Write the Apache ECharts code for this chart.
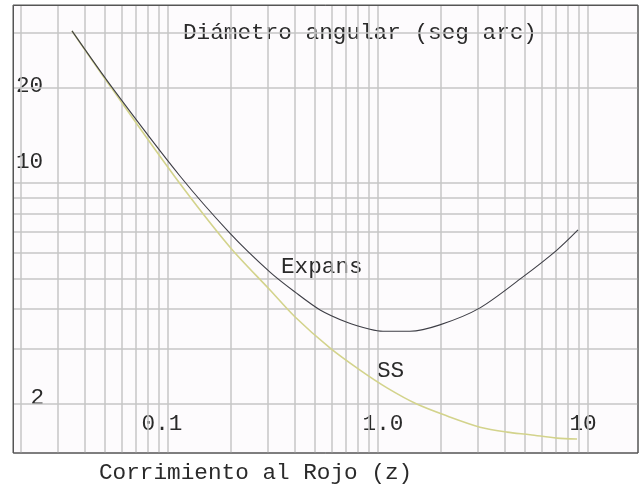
<!DOCTYPE html>
<html><head><meta charset="utf-8">
<script src="https://cdn.jsdelivr.net/npm/echarts@6/dist/echarts.min.js"></script>
<style>html,body{margin:0;padding:0;background:#fff}#c{width:640px;height:486px}</style>
</head><body><div id="c"></div>
<script>
// ---- data ----
const zExpans = [0.0349,0.0547,0.114,0.197,0.306,0.403,0.530,0.711,0.916,1.056,1.42,1.97,3.06,4.90,7.11,8.96];
const thetaExpans = [30.3,19.9,10.53,6.95,5.23,4.52,3.97,3.63,3.45,3.40,3.40,3.56,4.03,5.05,6.14,7.11];
const zSS = [0.0349,0.0541,0.108,0.197,0.306,0.403,0.590,0.821,1.104,1.53,2.15,3.06,4.11,5.30,7.11,8.87];
const thetaSS = [30.3,19.9,10.46,6.28,4.59,3.77,3.01,2.56,2.25,2.00,1.83,1.69,1.63,1.60,1.56,1.55];
const xGridValues = [0.02,0.03,0.04,0.05,0.06,0.07,0.08,0.09,0.1,0.2,0.3,0.4,0.5,0.6,0.7,0.8,0.9,1,2,3,4,5,6,7,8,9,10];
const yGridValues = [2,3,4,5,6,7,8,9,10,20,30];
const xTickValues = [0.1,1,10];
const xTickLabels = ['0.1','1.0','10'];
const yTickValues = [20,10,2];
const yTickLabels = ['20','10','2'];
const titleText = 'Diámetro angular (seg arc)';
const xTitleText = 'Corrimiento al Rojo (z)';
const seriesNames = ['Expans','SS'];

const FONT = '"Liberation Mono", "DejaVu Sans Mono", monospace';
const FS = 22.7;
const chart = echarts.init(document.getElementById('c'), null, {renderer:'canvas'});
const pair = (xs, ys) => xs.map((x,i)=>[x, ys[i]]);
const gridLine = {color:'#c6c6c6', width:1.5, type:'solid'};

chart.setOption({
  animation:false,
  backgroundColor:'#ffffff',
  grid:{left:13, top:5, right:2, bottom:33, show:true, backgroundColor:'#fdfbfd', borderColor:'#555', borderWidth:1},
  xAxis:{type:'log', logBase:10, min:0.01828, max:17.3, axisLine:{show:false}, axisTick:{show:false}, axisLabel:{show:false}, splitLine:{show:false}},
  yAxis:{type:'log', logBase:10, min:1.400, max:36.6, axisLine:{show:false}, axisTick:{show:false}, axisLabel:{show:false}, splitLine:{show:false}},
  series:[
    {type:'line', name:'grid', data:[], z:1, silent:true,
     markLine:{silent:true, symbol:['none','none'], z:1, label:{show:false}, lineStyle:gridLine, animation:false,
       data: xGridValues.map(v=>({xAxis:v})).concat(yGridValues.map(v=>({yAxis:v})))}},
    {type:'line', name:seriesNames[1], data:pair(zSS, thetaSS), smooth:0.3, showSymbol:false, z:3,
     lineStyle:{color:'#d3d38c', width:1.6}},
    {type:'line', name:seriesNames[0], data:pair(zExpans, thetaExpans), smooth:0.3, showSymbol:false, z:4,
     lineStyle:{color:'#3e3e46', width:1.1}}
  ]
});

const px = v => chart.convertToPixel({xAxisIndex:0}, v);
const py = v => chart.convertToPixel({yAxisIndex:0}, v);
const txtStyle = (s, extra) => Object.assign({text:s, fill:'#2a2a2a', font: FS+'px '+FONT}, extra||{});
const bottomY = py(1.400);
const g = [];
// frame
g.push({type:'rect', shape:{x:13.5, y:5.5, width:624.5, height:447.5}, style:{fill:null, stroke:'#555', lineWidth:1}, z:10, silent:true});
// title and axis title
g.push({type:'text', x:183, y:33, style:txtStyle(titleText,{textAlign:'left', textVerticalAlign:'middle'})});
g.push({type:'text', x:99, y:473, style:txtStyle(xTitleText,{textAlign:'left', textVerticalAlign:'middle'})});
// x tick labels (inside the frame)
const xOff = [-6, 5, -5];
xTickValues.forEach((v,i)=>{
  g.push({type:'text', x:px(v)+xOff[i], y:bottomY-29, style:txtStyle(xTickLabels[i],{textAlign:'center', textVerticalAlign:'middle'})});
});
// y tick labels
const yOff = [-2, -21, -6];
const yAlignX = [16, 16, 44];
const yAlign = ['left','left','right'];
yTickValues.forEach((v,i)=>{
  g.push({type:'text', x:yAlignX[i], y:py(v)+yOff[i], style:txtStyle(yTickLabels[i],{textAlign:yAlign[i], textVerticalAlign:'middle'})});
});
// series labels
g.push({type:'text', x:281, y:267, style:txtStyle(seriesNames[0],{textAlign:'left', textVerticalAlign:'middle'})});
g.push({type:'text', x:377, y:371, style:txtStyle(seriesNames[1],{textAlign:'left', textVerticalAlign:'middle'})});
chart.setOption({graphic:g});
</script>
</body></html>
